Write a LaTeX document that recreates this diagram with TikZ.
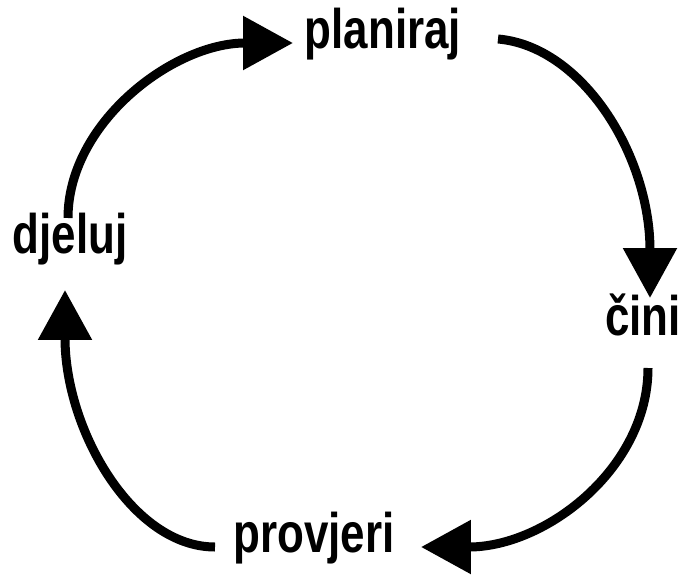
\documentclass[tikz,border=0pt]{standalone}
\usepackage{fontspec}
\setmainfont{Liberation Sans}
\usetikzlibrary{arrows.meta}

\tikzstyle{stage} = [font=\fontsize{25}{30}\selectfont\bfseries, yscale=1.27, text height=1.5ex, text depth=0.5ex, inner sep=0pt]
\tikzstyle{arrow} = [line width=0.18cm, -{Triangle[length=1cm,width=1.04cm]}]

\begin{document}
\begin{tikzpicture}[x=0.02cm,y=0.02cm]
  \useasboundingbox (0,0) rectangle (686,576);

  \node (planiraj)[stage] at (383,533) {planiraj};
  \node (cini)[stage] at (643,246) {čini};
  \node (provjeri)[stage] at (314,29) {provjeri};
  \node (djeluj)[stage] at (70,328) {djeluj};

  \draw [arrow] ([shift={(-2,30)}]djeluj.center) to[out=90,in=180,out distance=1.9cm,in distance=2.4cm] ([shift={(-90,0)}]planiraj.center);
  \draw [arrow] ([shift={(115,4)}]planiraj.center) to[out=-5,in=90,out distance=1.7cm,in distance=2.85cm] ([shift={(7,32)}]cini.center);
  \draw [arrow] ([shift={(5,-38)}]cini.center) to[out=-90,in=0,out distance=2cm,in distance=2.5cm] ([shift={(107,0)}]provjeri.center);
  \draw [arrow] ([shift={(-99,0)}]provjeri.center) to[out=180,in=-90,out distance=1.65cm,in distance=2.8cm] ([shift={(-5,-42)}]djeluj.center);
\end{tikzpicture}
\end{document}
